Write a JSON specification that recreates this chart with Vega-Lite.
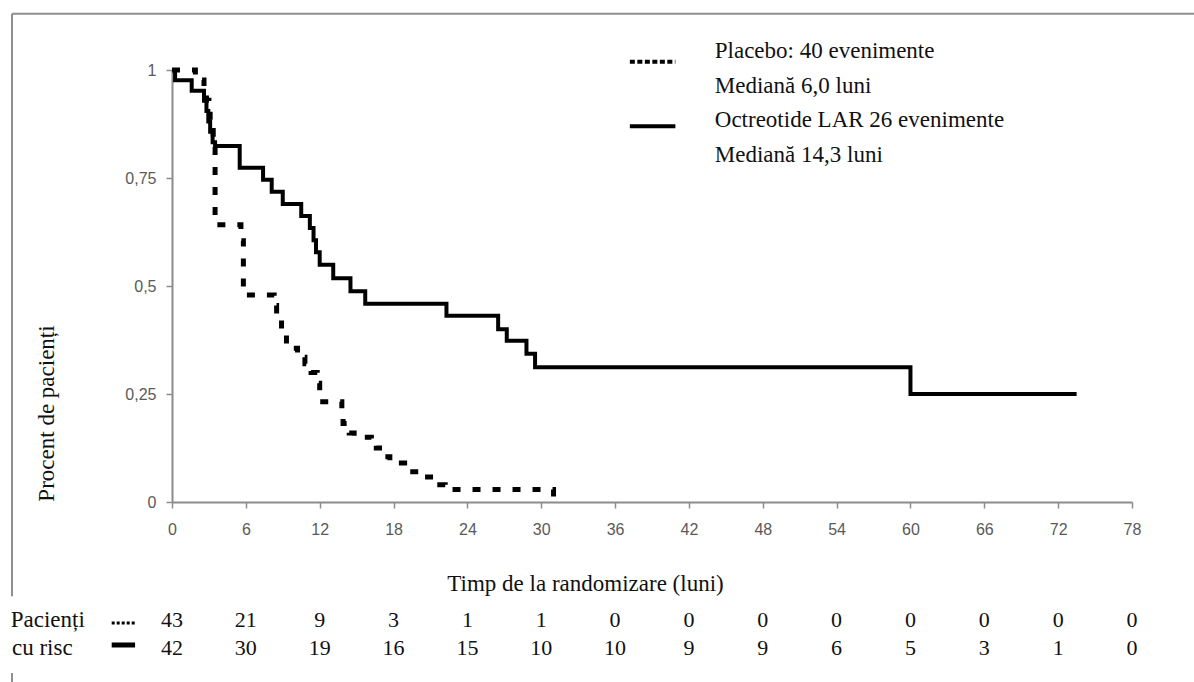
{
  "$schema": "https://vega.github.io/schema/vega-lite/v6.json",
  "width": 960,
  "height": 432,
  "autosize": {"type": "none"},
  "padding": {"left": 172, "top": 70, "right": 62, "bottom": 180},
  "background": "white",
  "config": {"view": {"stroke": null}},
  "data": {"values": [{}]},
  "datasets": {
    "km": [
      {"grp": "Placebo", "t": 0, "s": 1.0},
      {"grp": "Placebo", "t": 1.9, "s": 0.977},
      {"grp": "Placebo", "t": 2.6, "s": 0.953},
      {"grp": "Placebo", "t": 2.8, "s": 0.93},
      {"grp": "Placebo", "t": 3.0, "s": 0.907},
      {"grp": "Placebo", "t": 3.1, "s": 0.884},
      {"grp": "Placebo", "t": 3.25, "s": 0.86},
      {"grp": "Placebo", "t": 3.35, "s": 0.837},
      {"grp": "Placebo", "t": 3.5, "s": 0.642},
      {"grp": "Placebo", "t": 5.6, "s": 0.605},
      {"grp": "Placebo", "t": 5.8, "s": 0.479},
      {"grp": "Placebo", "t": 8.3, "s": 0.455},
      {"grp": "Placebo", "t": 8.5, "s": 0.43},
      {"grp": "Placebo", "t": 8.9, "s": 0.395},
      {"grp": "Placebo", "t": 9.3, "s": 0.356},
      {"grp": "Placebo", "t": 10.2, "s": 0.335},
      {"grp": "Placebo", "t": 10.8, "s": 0.32},
      {"grp": "Placebo", "t": 11.3, "s": 0.3},
      {"grp": "Placebo", "t": 11.8, "s": 0.275},
      {"grp": "Placebo", "t": 12.0, "s": 0.232},
      {"grp": "Placebo", "t": 13.8, "s": 0.21},
      {"grp": "Placebo", "t": 13.9, "s": 0.182},
      {"grp": "Placebo", "t": 14.4, "s": 0.16},
      {"grp": "Placebo", "t": 14.8, "s": 0.15},
      {"grp": "Placebo", "t": 16.2, "s": 0.14},
      {"grp": "Placebo", "t": 16.6, "s": 0.125},
      {"grp": "Placebo", "t": 17.2, "s": 0.105},
      {"grp": "Placebo", "t": 17.7, "s": 0.09},
      {"grp": "Placebo", "t": 18.9, "s": 0.07},
      {"grp": "Placebo", "t": 20.4, "s": 0.058},
      {"grp": "Placebo", "t": 21.5, "s": 0.04},
      {"grp": "Placebo", "t": 22.2, "s": 0.029},
      {"grp": "Placebo", "t": 31.0, "s": 0.0},
      {"grp": "Placebo", "t": 31.4, "s": 0.0},
      {"grp": "Octreotide LAR", "t": 0, "s": 1.0},
      {"grp": "Octreotide LAR", "t": 0.25, "s": 0.976},
      {"grp": "Octreotide LAR", "t": 1.6, "s": 0.952},
      {"grp": "Octreotide LAR", "t": 2.6, "s": 0.929},
      {"grp": "Octreotide LAR", "t": 2.8, "s": 0.905},
      {"grp": "Octreotide LAR", "t": 2.95, "s": 0.881},
      {"grp": "Octreotide LAR", "t": 3.1, "s": 0.857},
      {"grp": "Octreotide LAR", "t": 3.3, "s": 0.833},
      {"grp": "Octreotide LAR", "t": 3.5, "s": 0.824},
      {"grp": "Octreotide LAR", "t": 5.5, "s": 0.774},
      {"grp": "Octreotide LAR", "t": 7.4, "s": 0.746},
      {"grp": "Octreotide LAR", "t": 8.1, "s": 0.718},
      {"grp": "Octreotide LAR", "t": 9.0, "s": 0.69},
      {"grp": "Octreotide LAR", "t": 10.5, "s": 0.662},
      {"grp": "Octreotide LAR", "t": 11.2, "s": 0.634},
      {"grp": "Octreotide LAR", "t": 11.5, "s": 0.606},
      {"grp": "Octreotide LAR", "t": 11.7, "s": 0.578},
      {"grp": "Octreotide LAR", "t": 12.0, "s": 0.549},
      {"grp": "Octreotide LAR", "t": 13.1, "s": 0.518},
      {"grp": "Octreotide LAR", "t": 14.5, "s": 0.488},
      {"grp": "Octreotide LAR", "t": 15.7, "s": 0.459},
      {"grp": "Octreotide LAR", "t": 22.3, "s": 0.431},
      {"grp": "Octreotide LAR", "t": 26.5, "s": 0.4},
      {"grp": "Octreotide LAR", "t": 27.2, "s": 0.373},
      {"grp": "Octreotide LAR", "t": 28.8, "s": 0.343},
      {"grp": "Octreotide LAR", "t": 29.5, "s": 0.312},
      {"grp": "Octreotide LAR", "t": 60.0, "s": 0.25},
      {"grp": "Octreotide LAR", "t": 73.5, "s": 0.25}
    ],
    "risk": [
      {"grp": "Placebo", "month": 0, "n": 43},
      {"grp": "Placebo", "month": 6, "n": 21},
      {"grp": "Placebo", "month": 12, "n": 9},
      {"grp": "Placebo", "month": 18, "n": 3},
      {"grp": "Placebo", "month": 24, "n": 1},
      {"grp": "Placebo", "month": 30, "n": 1},
      {"grp": "Placebo", "month": 36, "n": 0},
      {"grp": "Placebo", "month": 42, "n": 0},
      {"grp": "Placebo", "month": 48, "n": 0},
      {"grp": "Placebo", "month": 54, "n": 0},
      {"grp": "Placebo", "month": 60, "n": 0},
      {"grp": "Placebo", "month": 66, "n": 0},
      {"grp": "Placebo", "month": 72, "n": 0},
      {"grp": "Placebo", "month": 78, "n": 0},
      {"grp": "Octreotide LAR", "month": 0, "n": 42},
      {"grp": "Octreotide LAR", "month": 6, "n": 30},
      {"grp": "Octreotide LAR", "month": 12, "n": 19},
      {"grp": "Octreotide LAR", "month": 18, "n": 16},
      {"grp": "Octreotide LAR", "month": 24, "n": 15},
      {"grp": "Octreotide LAR", "month": 30, "n": 10},
      {"grp": "Octreotide LAR", "month": 36, "n": 10},
      {"grp": "Octreotide LAR", "month": 42, "n": 9},
      {"grp": "Octreotide LAR", "month": 48, "n": 9},
      {"grp": "Octreotide LAR", "month": 54, "n": 6},
      {"grp": "Octreotide LAR", "month": 60, "n": 5},
      {"grp": "Octreotide LAR", "month": 66, "n": 3},
      {"grp": "Octreotide LAR", "month": 72, "n": 1},
      {"grp": "Octreotide LAR", "month": 78, "n": 0}
    ]
  },
  "layer": [
    {
      "data": {"name": "km"},
      "mark": {"type": "line", "interpolate": "step-after", "color": "#000000", "strokeCap": "butt"},
      "encoding": {
        "x": {
          "field": "t", "type": "quantitative",
          "scale": {"domain": [0, 78], "nice": false, "zero": false},
          "axis": {
            "values": [0, 6, 12, 18, 24, 30, 36, 42, 48, 54, 60, 66, 72, 78],
            "grid": false,
            "domainColor": "#8c8c8c", "domainWidth": 2,
            "tickColor": "#8c8c8c", "tickSize": 6, "tickWidth": 1.5,
            "labelColor": "#5a5a5a", "labelFont": "Liberation Sans", "labelFontSize": 16, "labelPadding": 13,
            "labelFlush": false,
            "title": "Timp de la randomizare (luni)",
            "titleFont": "Liberation Serif", "titleFontSize": 23, "titleFontWeight": "normal", "titleColor": "#111111",
            "titleX": 413, "titleY": 88, "titleAlign": "center", "titleBaseline": "alphabetic"
          }
        },
        "y": {
          "field": "s", "type": "quantitative",
          "scale": {"domain": [0, 1], "nice": false},
          "axis": {
            "values": [0, 0.25, 0.5, 0.75, 1],
            "labelExpr": "replace(toString(datum.value), '.', ',')",
            "grid": false,
            "domainColor": "#8c8c8c", "domainWidth": 2,
            "tickColor": "#8c8c8c", "tickSize": 6, "tickWidth": 1.5,
            "labelColor": "#5a5a5a", "labelFont": "Liberation Sans", "labelFontSize": 16, "labelPadding": 10,
            "labelFlush": false,
            "title": "Procent de pacienți",
            "titleFont": "Liberation Serif", "titleFontSize": 23, "titleFontWeight": "normal", "titleColor": "#111111",
            "titleX": -126, "titleY": 343, "titleAngle": 270, "titleAlign": "center", "titleBaseline": "middle"
          }
        },
        "strokeDash": {
          "field": "grp", "type": "nominal",
          "scale": {"domain": ["Octreotide LAR", "Placebo"], "range": [[1, 0], [8, 12]]},
          "legend": null
        },
        "strokeWidth": {
          "field": "grp", "type": "ordinal",
          "scale": {"domain": ["Octreotide LAR", "Placebo"], "range": [4, 5]},
          "legend": null
        }
      }
    },
    {
      "mark": {"type": "rule", "color": "#000000", "strokeWidth": 4, "strokeDash": [5, 2.5]},
      "encoding": {"x": {"datum": 37.2}, "x2": {"datum": 40.9}, "y": {"datum": 1.019}}
    },
    {
      "mark": {"type": "rule", "color": "#000000", "strokeWidth": 4},
      "encoding": {"x": {"datum": 37.2}, "x2": {"datum": 40.9}, "y": {"datum": 0.87}}
    },
    {
      "mark": {"type": "text", "text": "Placebo: 40 evenimente", "align": "left", "baseline": "alphabetic", "font": "Liberation Serif", "fontSize": 23, "color": "#111111"},
      "encoding": {"x": {"datum": 44.1}, "y": {"datum": 1.027}}
    },
    {
      "mark": {"type": "text", "text": "Mediană 6,0 luni", "align": "left", "baseline": "alphabetic", "font": "Liberation Serif", "fontSize": 23, "color": "#111111"},
      "encoding": {"x": {"datum": 44.1}, "y": {"datum": 0.947}}
    },
    {
      "mark": {"type": "text", "text": "Octreotide LAR 26 evenimente", "align": "left", "baseline": "alphabetic", "font": "Liberation Serif", "fontSize": 23, "color": "#111111"},
      "encoding": {"x": {"datum": 44.1}, "y": {"datum": 0.867}}
    },
    {
      "mark": {"type": "text", "text": "Mediană 14,3 luni", "align": "left", "baseline": "alphabetic", "font": "Liberation Serif", "fontSize": 23, "color": "#111111"},
      "encoding": {"x": {"datum": 44.1}, "y": {"datum": 0.788}}
    },
    {
      "data": {"name": "risk"},
      "transform": [{"filter": "datum.grp === 'Placebo'"}],
      "mark": {"type": "text", "align": "center", "baseline": "alphabetic", "font": "Liberation Serif", "fontSize": 22, "color": "#111111"},
      "encoding": {
        "x": {"field": "month", "type": "quantitative"},
        "y": {"datum": -0.289},
        "text": {"field": "n", "type": "quantitative"}
      }
    },
    {
      "data": {"name": "risk"},
      "transform": [{"filter": "datum.grp === 'Octreotide LAR'"}],
      "mark": {"type": "text", "align": "center", "baseline": "alphabetic", "font": "Liberation Serif", "fontSize": 22, "color": "#111111"},
      "encoding": {
        "x": {"field": "month", "type": "quantitative"},
        "y": {"datum": -0.354},
        "text": {"field": "n", "type": "quantitative"}
      }
    },
    {
      "mark": {"type": "text", "text": "Pacienți", "align": "left", "baseline": "alphabetic", "font": "Liberation Serif", "fontSize": 23, "color": "#111111"},
      "encoding": {"x": {"datum": -13.1}, "y": {"datum": -0.289}}
    },
    {
      "mark": {"type": "text", "text": "cu risc", "align": "left", "baseline": "alphabetic", "font": "Liberation Serif", "fontSize": 23, "color": "#111111"},
      "encoding": {"x": {"datum": -13.0}, "y": {"datum": -0.354}}
    },
    {
      "mark": {"type": "rule", "color": "#000000", "strokeWidth": 3, "strokeDash": [3, 2]},
      "encoding": {"x": {"datum": -4.9}, "x2": {"datum": -3.0}, "y": {"datum": -0.28}}
    },
    {
      "mark": {"type": "rule", "color": "#000000", "strokeWidth": 5},
      "encoding": {"x": {"datum": -4.9}, "x2": {"datum": -3.0}, "y": {"datum": -0.331}}
    },
    {
      "mark": {"type": "rule", "color": "#8f8f8f", "strokeWidth": 2},
      "encoding": {"x": {"datum": -13.0}, "x2": {"datum": 84}, "y": {"datum": 1.13}}
    },
    {
      "mark": {"type": "rule", "color": "#8f8f8f", "strokeWidth": 2},
      "encoding": {"x": {"datum": -13.0}, "y": {"datum": 1.13}, "y2": {"datum": -0.218}}
    },
    {
      "mark": {"type": "rule", "color": "#8f8f8f", "strokeWidth": 2},
      "encoding": {"x": {"datum": -13.0}, "y": {"datum": -0.396}, "y2": {"datum": -0.45}}
    }
  ]
}
